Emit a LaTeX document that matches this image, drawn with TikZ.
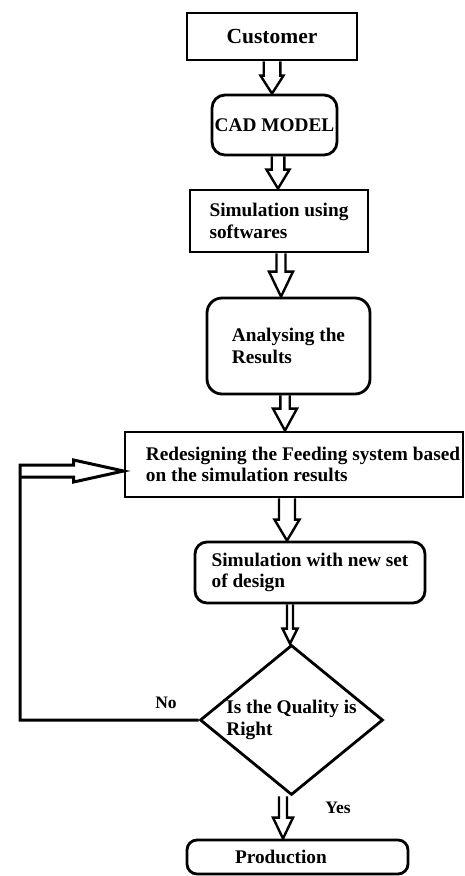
\documentclass[tikz,border=0pt]{standalone}
\usepackage{fontspec}
\setmainfont{Liberation Serif}
\usetikzlibrary{shapes.geometric,calc}

\tikzset{
    box/.style={draw, rectangle, line width=2.8pt, inner sep=0pt, align=left,
        font=\bfseries\fontsize{19.3}{21.5}\selectfont},
    roundbox/.style={box, rounded corners=13pt},
    decision/.style={draw, diamond, aspect=1.22, line width=2.8pt, inner sep=0pt,
        align=left, font=\bfseries\fontsize{19.3}{21.5}\selectfont},
    arrowline/.style={line width=2.4pt, line join=miter},
    loopline/.style={line width=3pt, line join=miter},
    lbl/.style={font=\bfseries\fontsize{17.5}{19}\selectfont}
}

% hollow block arrow: x, from, to, half shaft, half head, head length
\newcommand{\blockarrow}[6]{%
    \draw[arrowline] let \p1=(#2.south), \p2=(#3.north) in
        (#1pt-#4pt,\y1) -- (#1pt-#4pt,\y2+#6pt) -- (#1pt-#5pt,\y2+#6pt) -- (#1pt,\y2)
        -- (#1pt+#5pt,\y2+#6pt) -- (#1pt+#4pt,\y2+#6pt) -- (#1pt+#4pt,\y1);
}

\begin{document}
\begin{tikzpicture}[x=1pt, y=-1pt]
    \useasboundingbox (0,0) rectangle (465,876);

    \node[box, minimum width=170, minimum height=47,
        font=\bfseries\fontsize{21.5}{23}\selectfont] (cust) at (272,36.5) {Customer};
    \node[roundbox, minimum width=125, minimum height=60] (cad) at (274.5,125) {CAD MODEL};
    \node[box, minimum width=178, minimum height=62] (sim) at (279,221)
        {Simulation using\\softwares};
    \node[roundbox, rounded corners=15pt, minimum width=163, minimum height=96] (ana)
        at (288.5,346) {Analysing the\\Results};
    \node[box, minimum width=338, minimum height=65] (red) at (294,464.5)
        {\hspace*{18pt}Redesigning the Feeding system based\\\hspace*{18pt}on the simulation results};
    \node[roundbox, rounded corners=12pt, minimum width=230, minimum height=61] (simnew)
        at (310,572.5) {Simulation with new set\\of design};
    \node[decision, minimum width=183, minimum height=150] (dec) at (291.5,720)
        {Is the Quality is\\Right};
    \node[roundbox, rounded corners=10pt, minimum width=221, minimum height=34,
        text width=125] (prod) at (297.5,857) {Production};

    \blockarrow{272}{cust}{cad}{8.3}{11.5}{18}
    \blockarrow{278}{cad}{sim}{6.3}{11.5}{19}
    \blockarrow{281}{sim}{ana}{4.5}{12}{25}
    \blockarrow{285}{ana}{red}{4.7}{12}{22}
    \blockarrow{287}{red}{simnew}{8}{12.5}{21}
    \blockarrow{290}{simnew}{dec}{3}{7.5}{15}
    \blockarrow{283}{dec}{prod}{4}{10}{21}

    % loop back to the redesign step
    \coordinate (loop) at (20,471);
    \draw[loopline] let \p1=(loop), \p2=(loop -| red.west), \p3=(dec.west) in
        (\p3) -- (\x1,\y3) -- (\x1,\y1+6pt) -- (\x2-50pt,\y1+6pt) -- (\x2-50pt,\y1+11pt)
        -- (\p2) -- (\x2-50pt,\y1-11pt) -- (\x2-50pt,\y1-6pt) -- (\x1,\y1-6pt);

    \node[lbl] (no) at (166,703) {No};
    \node[lbl] (yes) at (338,808) {Yes};
\end{tikzpicture}
\end{document}
